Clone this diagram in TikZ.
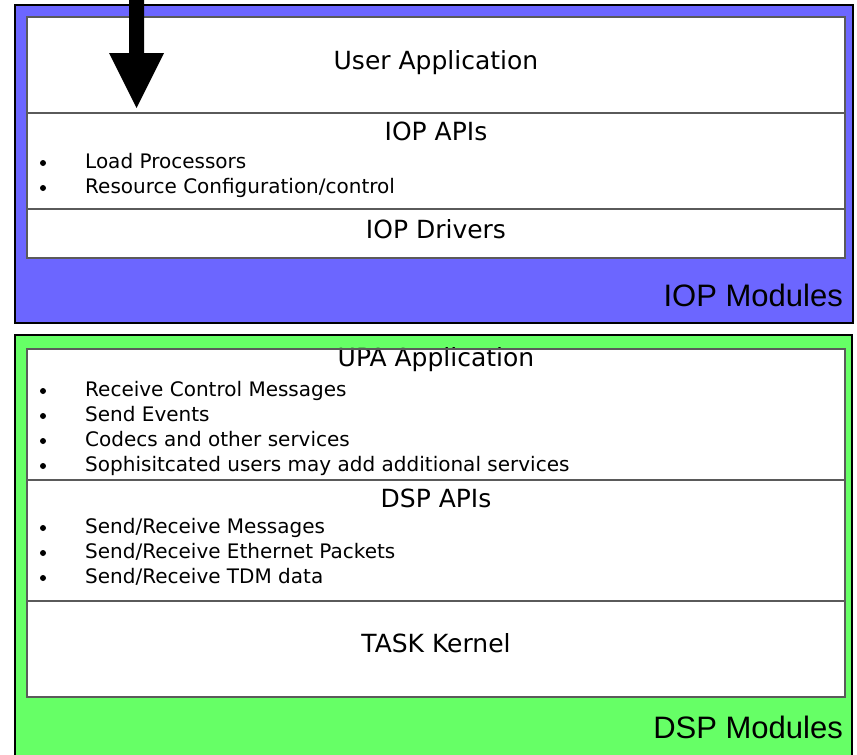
\documentclass[tikz,border=0pt]{standalone}
\usepackage{fontspec}
\setmainfont{DejaVu Sans}
\newfontfamily\arialfont{Liberation Sans}
\definecolor{iopblue}{RGB}{108,102,255}
\definecolor{dspgreen}{RGB}{102,255,102}
\definecolor{linegray}{RGB}{90,90,90}
\begin{document}
\begin{tikzpicture}[x=1pt,y=-1pt,
  outerbox/.style={draw=black,line width=2pt},
  innerfill/.style={fill=white},
  inneredge/.style={draw=linegray,line width=1.3pt},
  divider/.style={draw=linegray,line width=1.3pt},
  title/.style={font=\fontsize{25}{30}\selectfont,anchor=base,inner sep=0pt},
  item/.style={font=\fontsize{20}{24}\selectfont,anchor=base west,inner sep=0pt},
  modlabel/.style={font=\arialfont\fontsize{31}{36}\selectfont,anchor=base east,inner sep=0pt},
  bulletdot/.style={circle,fill=black,inner sep=0pt,minimum size=6pt},
  blockarrow/.style={fill=black}]
\useasboundingbox (0,0) rectangle (857,755);
\clip (0,0) rectangle (857,755);

% IOP module
\draw[outerbox,fill=iopblue] (15,5) rectangle (853,323);
\fill[innerfill] (27,17) rectangle (845,258);
\draw[divider] (27,113) -- (845,113);
\draw[divider] (27,209) -- (845,209);
\draw[inneredge] (27,17) rectangle (845,258);

\node[title] (userapp) at (436,69) {User Application};
\node[title] (iopapi) at (436,140) {IOP APIs};
\node[bulletdot] (bl1) at (43,163) {};
\node[item] (load) at (85,168) {Load Processors};
\node[bulletdot] (bl2) at (43,188) {};
\node[item] (rescfg) at (85,193) {Resource Configuration/control};
\node[title] (iopdrv) at (436,238) {IOP Drivers};
\node[modlabel] (iopmod) at (843,306) {IOP Modules};

% block arrow
\coordinate (arrowtop) at (136.5,-5);
\fill[blockarrow] (129,-5) -- (144,-5) -- (144,53) -- (164,53) -- (136.5,108) -- (109,53) -- (129,53) -- cycle;

% DSP module
\draw[outerbox,fill=dspgreen] (15,335) rectangle (852,770);
\fill[innerfill] (27,349) rectangle (845,697);
\draw[divider] (27,480) -- (845,480);
\draw[divider] (27,601) -- (845,601);

\node[title] (upaapp) at (436,366) {UPA Application};
\node[bulletdot] (bu1) at (43,391) {};
\node[item] (rcm) at (85,396) {Receive Control Messages};
\node[bulletdot] (bu2) at (43,416) {};
\node[item] (sev) at (85,421) {Send Events};
\node[bulletdot] (bu3) at (43,441) {};
\node[item] (cod) at (85,446) {Codecs and other services};
\node[bulletdot] (bu4) at (43,466) {};
\node[item] (sop) at (85,471) {Sophisitcated users may add additional services};
\node[title] (dspapi) at (436,507) {DSP APIs};
\node[bulletdot] (bd1) at (43,528) {};
\node[item] (srm) at (85,533) {Send/Receive Messages};
\node[bulletdot] (bd2) at (43,553) {};
\node[item] (sre) at (85,558) {Send/Receive Ethernet Packets};
\node[bulletdot] (bd3) at (43,578) {};
\node[item] (srt) at (85,583) {Send/Receive TDM data};
\node[title] (task) at (436,652) {TASK Kernel};
\draw[inneredge] (27,349) rectangle (845,697);
\node[modlabel] (dspmod) at (843,738) {DSP Modules};
\end{tikzpicture}
\end{document}
